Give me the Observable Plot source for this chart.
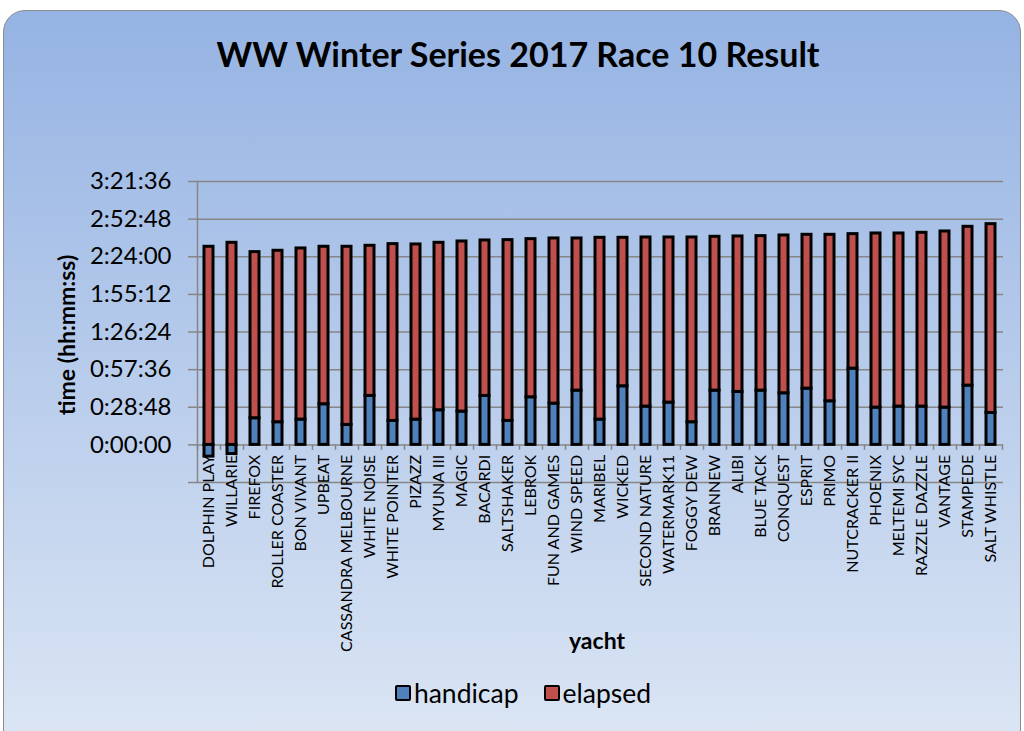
<!DOCTYPE html>
<html>
<head>
<meta charset="utf-8">
<script src="https://cdn.jsdelivr.net/npm/d3@7"></script>
<script src="https://cdn.jsdelivr.net/npm/@observablehq/plot@0.6"></script>
<style>
  html, body { margin: 0; padding: 0; background: #ffffff; }
  body { width: 1024px; height: 731px; overflow: hidden; position: relative; font-family: Lato, "Open Sans", sans-serif; color: #000; }
  #box { position: absolute; left: 3px; top: 10px; width: 1016px; height: 740px; border: 1.5px solid #8c8c8c; border-radius: 22px;
         background: linear-gradient(180deg, #95b3e3 0%, #dce6f4 100%); }
  #title { position: absolute; left: 0; top: 33px; width: 1036px; text-align: center; font-weight: bold; font-size: 34px; }
  #chart { position: absolute; left: 0; top: 150px; }
  #ytitle { position: absolute; left: 66px; top: 335px; transform: translate(-50%, -50%) rotate(-90deg); white-space: nowrap; font-weight: bold; font-size: 23px; }
  #xtitle { position: absolute; left: 597px; top: 640px; transform: translate(-50%, -50%); font-weight: bold; font-size: 23px; }
  #legend { position: absolute; left: 0; top: 677px; width: 1046px; display: flex; justify-content: center; gap: 25px; font-size: 26.5px; }
  .item { display: flex; align-items: center; gap: 3px; }
  .sw { width: 12px; height: 12px; border: 2.5px solid #000; border-radius: 2px; }
</style>
</head>
<body>
<div id="box"></div>
<div id="title">WW Winter Series 2017 Race 10 Result</div>
<div id="chart"></div>
<div id="ytitle">time (hh:mm:ss)</div>
<div id="xtitle">yacht</div>
<div id="legend"></div>
<script>
const yachts = ["DOLPHIN PLAY","WILLARIE","FIREFOX","ROLLER COASTER","BON VIVANT","UPBEAT","CASSANDRA MELBOURNE","WHITE NOISE","WHITE POINTER","PIZAZZ","MYUNA III","MAGIC","BACARDI","SALTSHAKER","LEBROK","FUN AND GAMES","WIND SPEED","MARIBEL","WICKED","SECOND NATURE","WATERMARK11","FOGGY DEW","BRANNEW","ALIBI","BLUE TACK","CONQUEST","ESPRIT","PRIMO","NUTCRACKER II","PHOENIX","MELTEMI SYC","RAZZLE DAZZLE","VANTAGE","STAMPEDE","SALT WHISTLE"];
const handicap = ["-0:09:00","-0:07:00","0:20:23","0:17:20","0:19:22","0:31:05","0:15:17","0:37:28","0:18:21","0:19:22","0:26:30","0:25:29","0:37:28","0:18:21","0:36:26","0:31:36","0:41:32","0:19:22","0:44:51","0:29:18","0:32:22","0:17:20","0:41:32","0:40:31","0:41:32","0:39:30","0:43:04","0:33:23","0:58:21","0:28:32","0:29:18","0:29:18","0:28:32","0:45:22","0:24:28"];
const elapsed = ["2:31:38","2:34:41","2:07:10","2:11:14","2:10:59","2:00:33","2:16:21","1:54:55","2:15:19","2:14:03","2:08:11","2:10:13","1:59:00","2:18:22","2:01:03","2:06:24","1:56:28","2:19:08","1:53:39","2:09:28","2:06:24","2:21:26","1:57:44","1:59:01","1:58:15","2:00:47","1:57:44","2:07:25","1:42:58","2:13:17","2:12:31","2:13:02","2:14:49","2:01:33","2:24:29"];
const series = ["handicap", "elapsed"];
const seriesColors = ["#4f81bd", "#c0504d"];
const yTickLabels = ["0:00:00","0:28:48","0:57:36","1:26:24","1:55:12","2:24:00","2:52:48","3:21:36"];
const yMinLabel = "-0:28:48";

function toSec(s) {
  const neg = s.startsWith("-");
  const [h, m, sec] = s.replace("-", "").split(":").map(Number);
  const v = h * 3600 + m * 60 + sec;
  return neg ? -v : v;
}
function fmt(v) {
  if (v < 0) return "";
  const h = Math.floor(v / 3600), m = Math.floor((v % 3600) / 60), s = Math.round(v % 60);
  return `${h}:${String(m).padStart(2, "0")}:${String(s).padStart(2, "0")}`;
}

const rows = [];
yachts.forEach((y, i) => {
  rows.push({yacht: y, series: "handicap", value: toSec(handicap[i])});
  rows.push({yacht: y, series: "elapsed", value: toSec(elapsed[i])});
});
const yTicks = [toSec(yMinLabel), ...yTickLabels.map(toSec)];
const lastYacht = [yachts[yachts.length - 1]];

const chart = Plot.plot({
  width: 1024,
  height: 510,
  marginLeft: 197,
  marginRight: 21,
  marginTop: 31,
  marginBottom: 178,
  style: {background: "transparent", fontFamily: "Lato, 'Open Sans', sans-serif", color: "#000"},
  x: {domain: yachts, paddingInner: 0.6, paddingOuter: 0.3, axis: null},
  y: {domain: [yTicks[0], yTicks[yTicks.length - 1]], axis: null},
  color: {domain: series, range: seriesColors},
  marks: [
    Plot.gridY(yTicks, {stroke: "#868686", strokeOpacity: 1, strokeWidth: 1.5}),
    Plot.axisY(yTicks, {tickFormat: fmt, fontSize: 24, tickSize: 9, tickPadding: 17, stroke: "#868686", strokeWidth: 1.5, label: null}),
    Plot.frame({anchor: "left", stroke: "#868686", strokeWidth: 1.5}),
    Plot.ruleX(yachts, {x: d => d, y1: 0, y2: -250, dx: -11.5, stroke: "#868686", strokeWidth: 1.5}),
    Plot.ruleX(lastYacht, {x: d => d, y1: 0, y2: -250, dx: 11.5, stroke: "#868686", strokeWidth: 1.5}),
    Plot.barY(rows, {x: "yacht", y: "value", fill: "series", stroke: "#000", strokeWidth: 3}),
    Plot.text(yachts, {x: d => d, y: 0, text: d => d, rotate: -90, textAnchor: "end", dy: 10, fontSize: 16, fill: "#000"})
  ]
});
document.getElementById("chart").appendChild(chart);

const legend = document.getElementById("legend");
series.forEach((s, i) => {
  const item = document.createElement("div");
  item.className = "item";
  const sw = document.createElement("div");
  sw.className = "sw";
  sw.style.background = seriesColors[i];
  const label = document.createElement("span");
  label.textContent = s;
  item.appendChild(sw);
  item.appendChild(label);
  legend.appendChild(item);
});
</script>
</body>
</html>
